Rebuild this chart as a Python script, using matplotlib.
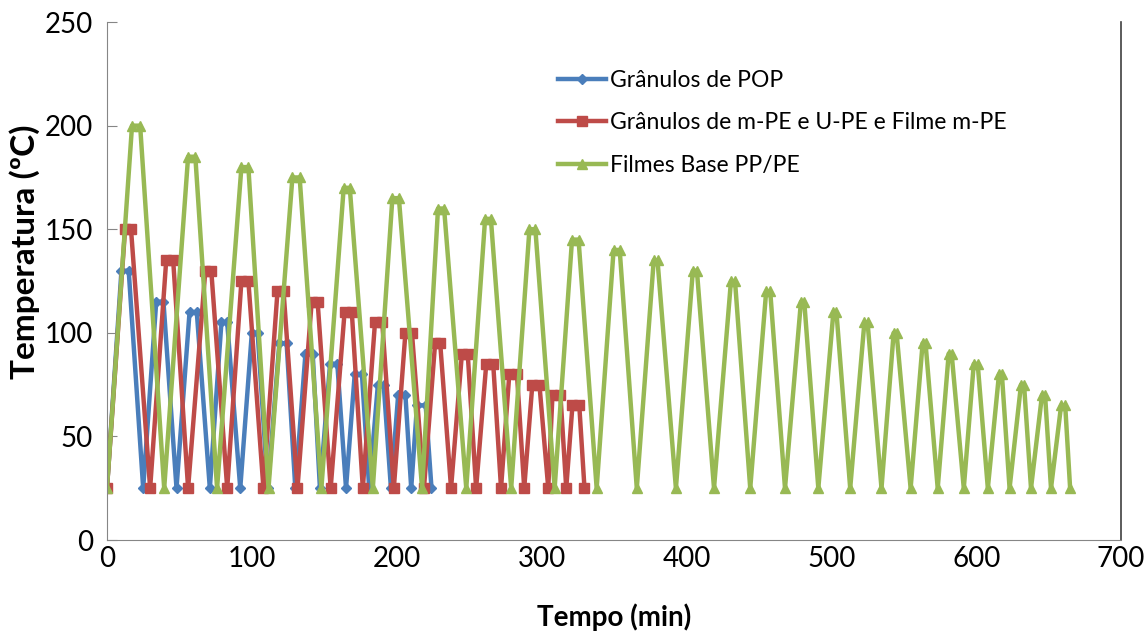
import matplotlib
matplotlib.use("Agg")
import matplotlib.pyplot as plt

# =============================================================================
# DADOS
# =============================================================================
tempo_pop = [0, 10, 15, 25, 34, 39, 48, 57, 62, 71, 79, 83, 92, 100, 104, 111,
             119, 124, 130, 137, 142, 147, 154, 159, 165, 171, 176, 181, 187,
             191, 196, 201, 206, 210, 214, 220, 224]
temp_pop = [25, 130, 130, 25, 115, 115, 25, 110, 110, 25, 105, 105, 25, 100, 100, 25,
            95, 95, 25, 90, 90, 25, 85, 85, 25, 80, 80, 25, 75,
            75, 25, 70, 70, 25, 65, 65, 25]

tempo_mpe = [0, 12.5, 16.6, 29.8, 40.9, 45.7, 56, 67.9, 72, 83, 92.8, 97.6, 108,
             117.7, 121.9, 131.5, 141.3, 145.4, 154.4, 164, 169, 176.6, 185, 190,
             198, 206, 210.5, 218.8, 226.5, 230, 237.5, 245, 249, 254.8, 261.8,
             266.6, 272, 277.7, 283, 288, 293.6, 298.5, 304.6, 307.5, 313, 317,
             321.3, 326, 329.6]
temp_mpe = [25, 150, 150, 25, 135, 135, 25, 130, 130, 25, 125, 125, 25,
            120, 120, 25, 115, 115, 25, 110, 110, 25, 105, 105,
            25, 100, 100, 25, 95, 95, 25, 90, 90, 25, 85,
            85, 25, 80, 80, 25, 75, 75, 25, 70, 70, 25,
            65, 65, 25]

tempo_filmes = [0, 17.3, 22.9, 39.5, 56, 61, 76, 92.8, 97.6, 111.5, 128, 133, 148,
                163.4, 167.6, 183.5, 197, 201.5, 217.5, 228.5, 232.7, 248, 261, 265,
                279, 291.6, 295.7, 309, 321, 325.5, 338, 349.7, 353.9, 365.7, 377.4,
                380, 392.7, 404.4, 407.2, 419, 430.7, 433.5, 444, 455, 457.8, 468,
                479, 481.3, 491, 501.4, 503.5, 513, 522.8, 525, 534.6, 543, 545,
                554.7, 563, 565, 573.4, 581, 583, 591.4, 598.3, 601, 608, 615.7,
                617.7, 623, 630.9, 633, 637.8, 645.4, 647.5, 651.6, 658.6, 661.4,
                664.8]
temp_filmes = [25, 200, 200, 25, 185, 185, 25, 180, 180, 25, 175, 175, 25,
               170, 170, 25, 165, 165, 25, 160, 160, 25, 155, 155,
               25, 150, 150, 25, 145, 145, 25, 140, 140, 25, 135,
               135, 25, 130, 130, 25, 125, 125, 25, 120, 120, 25,
               115, 115, 25, 110, 110, 25, 105, 105, 25, 100, 100,
               25, 95, 95, 25, 90, 90, 25, 85, 85, 25, 80,
               80, 25, 75, 75, 25, 70, 70, 25, 65, 65,
               25]

rotulos = ["Grânulos de POP",
           "Grânulos de m-PE e U-PE e Filme m-PE",
           "Filmes Base PP/PE"]

# =============================================================================
# GRÁFICO
# =============================================================================
plt.rcParams["font.family"] = ["Lato", "DejaVu Sans"]

fig = plt.figure(figsize=(11.44, 6.31), dpi=100)
ax = fig.add_axes([0.0935, 0.1442, 0.8865, 0.8208])

ax.plot(tempo_pop, temp_pop, color="#4A7EBB", linewidth=3.2,
        marker="D", markersize=5.5, label=rotulos[0])
ax.plot(tempo_mpe, temp_mpe, color="#BE4B48", linewidth=3.2,
        marker="s", markersize=6.5, label=rotulos[1])
ax.plot(tempo_filmes, temp_filmes, color="#98B954", linewidth=3.2,
        marker="^", markersize=6.5, label=rotulos[2])

ax.set_xlim(0, 700)
ax.set_ylim(0, 250)
ax.set_xticks(range(0, 701, 100))
ax.set_yticks(range(0, 251, 50))
ax.tick_params(labelsize=20, direction="in", length=7, color="#868686")
ax.tick_params(axis="x", pad=4, length=0)
ax.tick_params(axis="y", pad=10)

ax.spines["left"].set_color("#868686")
ax.spines["bottom"].set_color("#868686")
ax.spines["right"].set_color("#404040")
ax.spines["top"].set_visible(False)
ax.spines["right"].set_linewidth(1.2)

ax.set_xlabel("Tempo (min)", fontsize=20, fontweight="bold")
ax.xaxis.set_label_coords(0.5, -0.122)
ax.set_ylabel("Temperatura (ºC)", fontsize=24, fontweight="bold")
ax.yaxis.set_label_coords(-0.066, 0.556)

ax.legend(loc="upper left", bbox_to_anchor=(0.424, 0.948), frameon=False,
          fontsize=16.5, handlelength=2.1, labelspacing=0.95, handletextpad=0.2)

fig.savefig("out.png", dpi=100)
plt.close(fig)
